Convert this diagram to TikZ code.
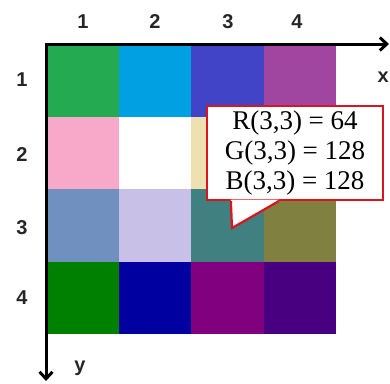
\documentclass[tikz,border=0pt]{standalone}
\usepackage{fontspec}
\setmainfont{Liberation Serif}
\setsansfont{Liberation Sans}
\usetikzlibrary{positioning}
\usetikzlibrary{calc}
\usetikzlibrary{arrows.meta}
\definecolor{pxA}{RGB}{36,170,80}
\definecolor{pxB}{RGB}{0,160,226}
\definecolor{pxC}{RGB}{66,68,200}
\definecolor{pxD}{RGB}{160,70,160}
\definecolor{pxE}{RGB}{248,168,200}
\definecolor{pxF}{RGB}{255,255,255}
\definecolor{pxG}{RGB}{238,224,176}
\definecolor{pxH}{RGB}{224,200,120}
\definecolor{pxI}{RGB}{112,144,192}
\definecolor{pxJ}{RGB}{200,192,230}
\definecolor{pxK}{RGB}{64,128,128}
\definecolor{pxL}{RGB}{128,128,64}
\definecolor{pxM}{RGB}{0,128,0}
\definecolor{pxN}{RGB}{0,0,160}
\definecolor{pxO}{RGB}{128,0,128}
\definecolor{pxP}{RGB}{72,0,128}
\definecolor{callred}{RGB}{220,20,30}

\begin{document}
\begin{tikzpicture}[
    x=1pt, y=-1pt,
    cell/.style={minimum width=72.3pt, minimum height=72.3pt, inner sep=0pt, outer sep=0pt},
    lbl/.style={font=\sffamily\bfseries\fontsize{20}{22}\selectfont, text=black!85},
    axis/.style={line width=3pt, {Straight Barb[length=7pt,width=13pt]}-{Straight Barb[length=7pt,width=13pt]}},
    callout/.style={draw=callred, line width=2.2pt, fill=white, minimum width=176pt, minimum height=94pt,
        inner sep=0pt, align=center, font=\fontsize{27}{30}\selectfont}
]
    \useasboundingbox (0,0) rectangle (390,383);

    \foreach \r/\c/\col in {1/1/pxA, 1/2/pxB, 1/3/pxC, 1/4/pxD,
                            2/1/pxE, 2/2/pxF, 2/3/pxG, 2/4/pxH,
                            3/1/pxI, 3/2/pxJ, 3/3/pxK, 3/4/pxL,
                            4/1/pxM, 4/2/pxN, 4/3/pxO, 4/4/pxP} {
        \node[cell, fill=\col] (c\r\c) at ({47+72.25*(\c-0.5)}, {45+72.25*(\r-0.5)}) {};
    }

    \foreach \i/\x in {1/83, 2/155, 3/228, 4/297} {
        \node[lbl] (col\i) at (\x, 22) {\i};
    }
    \foreach \i/\y in {1/80, 2/155, 3/228, 4/298} {
        \node[lbl] (row\i) at (22, \y) {\i};
    }

    \coordinate (o) at (46, 44);
    \coordinate (xend) at (389, 44);
    \coordinate (yend) at (46, 381);
    \draw[axis] (xend) -- (o) -- (yend);
    \node[lbl, anchor=east, inner sep=1pt] (xlbl) at (390, 77) {x};
    \node[lbl] (ylbl) at (80, 368) {y};

    \node[callout] (rgb) at (295, 153) {R(3,3) = 64\\G(3,3) = 128\\B(3,3) = 128};
    \coordinate (tip) at (232, 228);
    \coordinate (b1) at ([xshift=25pt]rgb.south west);
    \coordinate (b2) at ([xshift=73pt]rgb.south west);
    \fill[white] ([yshift=1.5pt]b1) -- (tip) -- ([yshift=1.5pt]b2) -- cycle;
    \draw[callred, line width=2.2pt, line join=miter] (b1) -- (tip) -- (b2);
\end{tikzpicture}
\end{document}
